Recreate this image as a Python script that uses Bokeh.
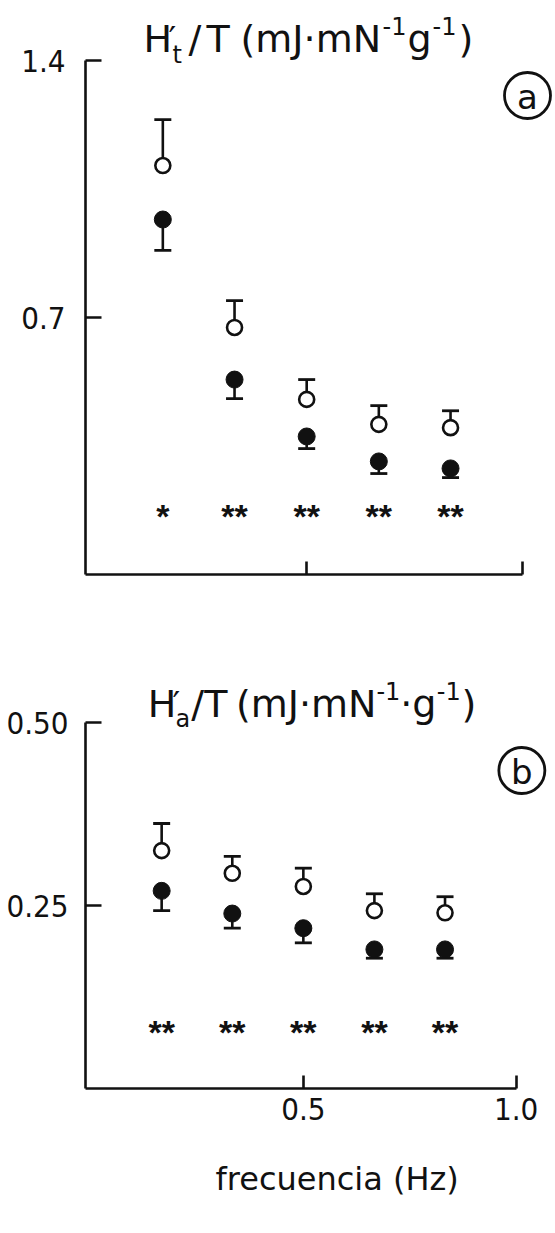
from bokeh.plotting import figure
from bokeh.models import Range1d, FixedTicker, Whisker, TeeHead, ColumnDataSource, Title
from bokeh.layouts import column
from bokeh.embed import file_html
from bokeh.resources import INLINE
from bokeh.core.properties import value

# stimulation frequency (Hz)
freq = [0.167, 0.333, 0.5, 0.667, 0.833]

# (a) H't/T, mJ·mN-1·g-1 : mean and SEM, open vs filled groups
ht_open = [1.114, 0.673, 0.477, 0.409, 0.400]
ht_open_sem = [0.125, 0.073, 0.054, 0.051, 0.046]
ht_filled = [0.967, 0.531, 0.376, 0.308, 0.289]
ht_filled_sem = [0.084, 0.052, 0.033, 0.033, 0.025]
ht_sig = ["*", "**", "**", "**", "**"]

# (b) H'a/T, mJ·mN-1·g-1
ha_open = [0.325, 0.294, 0.276, 0.243, 0.240]
ha_open_sem = [0.037, 0.023, 0.025, 0.023, 0.022]
ha_filled = [0.270, 0.239, 0.219, 0.190, 0.190]
ha_filled_sem = [0.027, 0.020, 0.020, 0.012, 0.012]
ha_sig = ["**", "**", "**", "**", "**"]

y_ticks_a = [0.7, 1.4]
y_labels_a = {0.7: "0.7", 1.4: "1.4"}
y_ticks_b = [0.25, 0.5]
y_labels_b = {0.25: "0.25", 0.5: "0.50"}
x_ticks = [0.5, 1.0]
x_labels = {0.5: "0.5", 1.0: "1.0"}

TITLE_FONT = "DejaVu Sans"
TICK_FONT = "'Liberation Sans Narrow', 'DejaVu Sans Condensed', 'Roboto'"
INK = "#111111"
X0 = -0.012


class Panel:
    """A figure whose frame sits at a known place on the page."""

    def __init__(self, page_top, height, left, frame_bottom, x_ppu, y_ppu):
        self.page_top = page_top
        self.left = left
        self.frame_bottom = frame_bottom  # page y of value 0
        self.x_ppu = x_ppu
        self.y_ppu = y_ppu
        frame_w = 555 - left
        frame_h = frame_bottom - page_top
        self.p = figure(
            width=555, height=height, output_backend="svg", toolbar_location=None,
            min_border_left=left, min_border_right=0, min_border_top=0,
            min_border_bottom=height - frame_h,
            x_range=Range1d(X0, X0 + frame_w / x_ppu),
            y_range=Range1d(0, frame_h / y_ppu),
        )
        p = self.p
        p.outline_line_color = None
        p.grid.visible = False
        p.background_fill_color = "white"
        p.border_fill_color = "white"

    def xd(self, px):
        return X0 + (px - self.left) / self.x_ppu

    def yd(self, py):
        return (self.frame_bottom - py) / self.y_ppu

    def text(self, px, py, s, size, align="left", baseline="alphabetic", font=TITLE_FONT):
        self.p.text(x=[self.xd(px)], y=[self.yd(py)], text=[s],
                    text_font=value(font), text_font_size=f"{size}px",
                    text_align=align, text_baseline=baseline, text_color=INK)

    def pieces(self, base, items):
        # items: (x, dy, text, size) laid along a common line
        for px, dy, s, size in items:
            self.text(px, base + dy, s, size)


def style_axes(pan, y_top, yticks, ylabels, show_x_labels, y_standoff):
    p = pan.p
    for ax in (p.xaxis[0], p.yaxis[0]):
        ax.axis_line_width = 2.6
        ax.axis_line_color = INK
        ax.major_tick_line_width = 2.6
        ax.major_tick_line_color = INK
        ax.minor_tick_line_color = None
        ax.major_tick_out = 0
        ax.major_label_text_font = TICK_FONT
        ax.major_label_text_font_size = "31px"
        ax.major_label_text_color = INK
    xa, ya = p.xaxis[0], p.yaxis[0]
    xa.bounds = (X0, 1.0)
    xa.ticker = FixedTicker(ticks=x_ticks)
    xa.major_tick_in = 13
    xa.major_label_standoff = 9
    if show_x_labels:
        xa.major_label_overrides = x_labels
    else:
        xa.major_label_overrides = {t: "" for t in x_ticks}
    ya.bounds = (0, y_top)
    ya.ticker = FixedTicker(ticks=yticks)
    ya.major_label_overrides = ylabels
    ya.major_tick_in = 16
    ya.major_label_standoff = y_standoff


def draw_series(p, y_open, sem_open, y_fill, sem_fill, sig, sig_y):
    up = [y + e for y, e in zip(y_open, sem_open)]
    lo = [y - e for y, e in zip(y_fill, sem_fill)]
    src = ColumnDataSource(dict(x=freq, yo=y_open, up=up, yf=y_fill, lo=lo, sig=sig,
                                sy=[sig_y] * len(freq)))
    p.add_layout(Whisker(base="x", lower="yo", upper="up", source=src,
                         line_width=2.6, line_color=INK, lower_head=None,
                         upper_head=TeeHead(size=17, line_width=2.8, line_color=INK)))
    p.add_layout(Whisker(base="x", lower="lo", upper="yf", source=src,
                         line_width=2.6, line_color=INK, upper_head=None,
                         lower_head=TeeHead(size=17, line_width=2.8, line_color=INK)))
    p.scatter("x", "yo", source=src, size=15, marker="circle",
              fill_color="white", line_color=INK, line_width=2.6)
    p.scatter("x", "yf", source=src, size=17, marker="circle",
              fill_color=INK, line_color=INK, line_width=1)
    p.text("x", "sy", text="sig", source=src, text_font=value("Liberation Sans"),
           text_font_style="bold", text_font_size="34px", text_align="center",
           text_baseline="alphabetic", text_color=INK)


def circled(pan, cx, cy, letter):
    pan.p.scatter(x=[pan.xd(cx)], y=[pan.yd(cy)], size=46, marker="circle",
                  fill_color=None, line_color=INK, line_width=2.8)
    pan.text(cx, cy + 1, letter, 34, align="center", baseline="middle")


# ---- panel (a)
A = Panel(page_top=0, height=640, left=85, frame_bottom=574, x_ppu=432, y_ppu=367.1)
style_axes(A, 1.4, y_ticks_a, y_labels_a, False, 20)
draw_series(A.p, ht_open, ht_open_sem, ht_filled, ht_filled_sem, ht_sig, A.yd(515))
A.pieces(38, [
    (143, 0, "H", 38), (168, 0, "\u2032", 34), (172, 16, "t", 24),
    (188, 0, "/", 38), (206, 0, "T", 38), (240, 0, "(mJ\u00b7mN", 38),
    (382, -13, "-1", 24), (407, 0, "g", 38), (432, -13, "-1", 24), (458, 0, ")", 38),
])
circled(A, 527, 95, "a")

# ---- panel (b)
B = Panel(page_top=640, height=593, left=80, frame_bottom=1088, x_ppu=430, y_ppu=732)
style_axes(B, 0.5, y_ticks_b, y_labels_b, True, 17)
draw_series(B.p, ha_open, ha_open_sem, ha_filled, ha_filled_sem, ha_sig, B.yd(1031))
B.pieces(703, [
    (143, 0, "H", 38), (168, 0, "\u2032", 34), (171, 15, "a", 24),
    (187, 0, "/", 38), (200, 0, "T", 38), (232, 0, "(mJ\u00b7mN", 38),
    (374, -13, "-1", 24), (398, 0, "\u00b7g", 38), (435, -13, "-1", 24), (460, 0, ")", 38),
])
circled(B, 521, 770, "b")
B.p.add_layout(Title(text="frecuencia (Hz)", align="left", offset=130, standoff=71,
                     text_font=TITLE_FONT, text_font_size="32px",
                     text_font_style="normal", text_color=INK), "below")

layout = column(A.p, B.p, spacing=0)
open("out.html", "w").write(file_html(layout, INLINE))
